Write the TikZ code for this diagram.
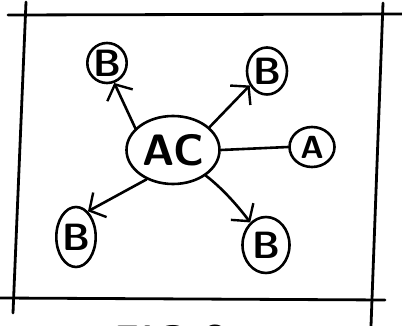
\documentclass[tikz,border=0pt]{standalone}
\usetikzlibrary{shapes.geometric,arrows.meta}
\begin{document}
\begin{tikzpicture}[x=1pt,y=-1pt,line width=2.6pt,line cap=round,line join=round,
  bub/.style={draw,ellipse,inner sep=0pt,font=\sffamily\bfseries\fontsize{38}{38}\selectfont},
  arr/.style={-{Straight Barb[length=12pt,width=28pt,line width=2.4pt]}},
  frame/.style={line width=2.8pt}]
\useasboundingbox (0,0) rectangle (402,326);
\clip (0,0) rectangle (402,326);
% frame lines
\draw[frame] (8,15) -- (402,14);
\draw[frame] (26,2) -- (13,313);
\draw[frame] (383,3) -- (371,326);
\draw[frame] (0,298) -- (385,300);
% nodes
\node[bub,minimum width=93pt,minimum height=68pt,font=\sffamily\bfseries\fontsize{44}{44}\selectfont] (ac) at (173,150) {AC};
\node[bub,minimum width=37pt,minimum height=40pt] (b1) at (107,63) {B};
\node[bub,minimum width=40pt,minimum height=47pt] (b2) at (267,71) {B};
\node[bub,minimum width=45pt,minimum height=40pt,font=\sffamily\bfseries\fontsize{32}{32}\selectfont] (a) at (312,147) {A};
\node[bub,minimum width=36pt,minimum height=60pt] (b3) at (76,237) {B};
\node[bub,minimum width=47pt,minimum height=56pt] (b4) at (266,245) {B};
% connectors
\draw[arr] (ac.150) -- (b1.-70);
\draw[arr] (ac.32) -- (b2.220);
\draw (ac.0) -- (a.180);
\draw[arr] (ac.228) -- (b3.65);
\draw[arr] (ac.-38) .. controls (222,188) and (238,206) .. (b4.125);
% caption (cut off at the bottom edge, as in the reference)
\node[anchor=north west,inner sep=0pt,font=\sffamily\bfseries\fontsize{44}{44}\selectfont] (fig) at (112,324) {FIG 3};
\end{tikzpicture}
\end{document}
